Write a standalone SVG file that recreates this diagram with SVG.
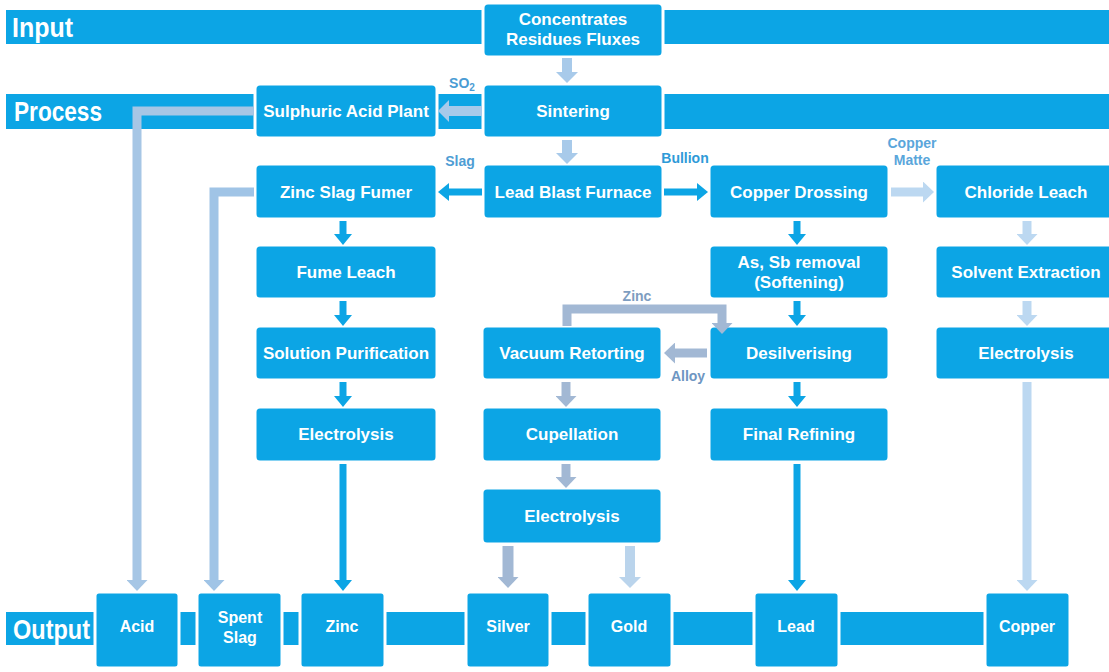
<svg xmlns="http://www.w3.org/2000/svg" width="1109" height="672" viewBox="0 0 1109 672">
<style>
.band{fill:#0CA5E5}
.node rect{fill:#0CA5E5;stroke:#ffffff;stroke-width:3}
.node text{fill:#ffffff;font-family:"Liberation Sans",Arial,sans-serif;font-weight:bold;font-size:17px;text-anchor:middle}
.onode text{font-size:16px}
.blabel{fill:#ffffff;font-family:"Liberation Sans",Arial,sans-serif;font-weight:bold;font-size:28px}
.lbl{font-family:"Liberation Sans",Arial,sans-serif;font-weight:bold;font-size:14px;text-anchor:middle}
.c{fill:none;stroke-linecap:butt;stroke-linejoin:miter}
.blue{stroke:#0CA5E5;stroke-width:7}
.light{stroke:#A8CAEA;stroke-width:10}
.pale{stroke:#BCD8F1;stroke-width:9}
.grey{stroke:#A2B8D4;stroke-width:9}
.acid{stroke:#A6C6E5;stroke-width:9}
.slagc{stroke:#A0C4E6;stroke-width:9}
.gold{stroke:#BAD4EC;stroke-width:10}
</style>
<defs>
<marker id="mBlue" markerUnits="userSpaceOnUse" markerWidth="11" markerHeight="18" refX="0" refY="9" orient="auto" viewBox="0 0 11 18"><path d="M0,0 L11,9 L0,18 Z" fill="#0CA5E5"/></marker>
<marker id="mLight" markerUnits="userSpaceOnUse" markerWidth="11" markerHeight="22" refX="0" refY="11" orient="auto" viewBox="0 0 11 22"><path d="M0,0 L11,11 L0,22 Z" fill="#A8CAEA"/></marker>
<marker id="mPale" markerUnits="userSpaceOnUse" markerWidth="11" markerHeight="21" refX="0" refY="10.5" orient="auto" viewBox="0 0 11 21"><path d="M0,0 L11,10.5 L0,21 Z" fill="#BCD8F1"/></marker>
<marker id="mGrey" markerUnits="userSpaceOnUse" markerWidth="11" markerHeight="21" refX="0" refY="10.5" orient="auto" viewBox="0 0 11 21"><path d="M0,0 L11,10.5 L0,21 Z" fill="#A2B8D4"/></marker>
<marker id="mAcid" markerUnits="userSpaceOnUse" markerWidth="11" markerHeight="21" refX="0" refY="10.5" orient="auto" viewBox="0 0 11 21"><path d="M0,0 L11,10.5 L0,21 Z" fill="#A6C6E5"/></marker>
<marker id="mSlag" markerUnits="userSpaceOnUse" markerWidth="11" markerHeight="21" refX="0" refY="10.5" orient="auto" viewBox="0 0 11 21"><path d="M0,0 L11,10.5 L0,21 Z" fill="#A0C4E6"/></marker>
<marker id="mGold" markerUnits="userSpaceOnUse" markerWidth="11" markerHeight="22" refX="0" refY="11" orient="auto" viewBox="0 0 11 22"><path d="M0,0 L11,11 L0,22 Z" fill="#BAD4EC"/></marker>
</defs>
<rect width="1109" height="672" fill="#ffffff"/>

<g id="bands">
<rect class="band" x="6" y="10" width="1103" height="34"/>
<rect class="band" x="6" y="94" width="1103" height="35"/>
<rect class="band" x="6" y="612" width="979" height="33"/>
<text class="blabel" x="12" y="37" textLength="61" lengthAdjust="spacingAndGlyphs">Input</text>
<text class="blabel" x="14" y="121" textLength="88" lengthAdjust="spacingAndGlyphs">Process</text>
<text class="blabel" x="13" y="639" textLength="77" lengthAdjust="spacingAndGlyphs">Output</text>
</g>

<g id="n-concentrates" class="node"><rect x="483" y="3" width="180" height="54" rx="5"/><text x="573" y="25">Concentrates</text><text x="573" y="45">Residues Fluxes</text></g>
<g id="n-sintering" class="node"><rect x="483" y="84" width="180" height="54" rx="5"/><text x="573" y="117">Sintering</text></g>
<g id="n-sulphuric" class="node"><rect x="255" y="84" width="182" height="54" rx="5"/><text x="346" y="117">Sulphuric Acid Plant</text></g>
<g id="n-leadblast" class="node"><rect x="483" y="164" width="180" height="55" rx="5"/><text x="573" y="198">Lead Blast Furnace</text></g>
<g id="n-zincslag" class="node"><rect x="255" y="164" width="182" height="55" rx="5"/><text x="346" y="198">Zinc Slag Fumer</text></g>
<g id="n-copperdross" class="node"><rect x="709" y="164" width="180" height="55" rx="5"/><text x="799" y="198">Copper Drossing</text></g>
<g id="n-chloride" class="node"><rect x="935" y="164" width="184" height="55" rx="5"/><text x="1026" y="198">Chloride Leach</text></g>
<g id="n-fumeleach" class="node"><rect x="255" y="245" width="182" height="54" rx="5"/><text x="346" y="278">Fume Leach</text></g>
<g id="n-assb" class="node"><rect x="709" y="245" width="180" height="54" rx="5"/><text x="799" y="268">As, Sb removal</text><text x="799" y="288">(Softening)</text></g>
<g id="n-solvent" class="node"><rect x="935" y="245" width="184" height="54" rx="5"/><text x="1026" y="278">Solvent Extraction</text></g>
<g id="n-solpur" class="node"><rect x="255" y="326" width="182" height="54" rx="5"/><text x="346" y="359">Solution Purification</text></g>
<g id="n-vacuum" class="node"><rect x="482" y="326" width="180" height="54" rx="5"/><text x="572" y="359">Vacuum Retorting</text></g>
<g id="n-desilver" class="node"><rect x="709" y="326" width="180" height="54" rx="5"/><text x="799" y="359">Desilverising</text></g>
<g id="n-electro-r" class="node"><rect x="935" y="326" width="184" height="54" rx="5"/><text x="1026" y="359">Electrolysis</text></g>
<g id="n-electro-l" class="node"><rect x="255" y="407" width="182" height="55" rx="5"/><text x="346" y="440">Electrolysis</text></g>
<g id="n-cupellation" class="node"><rect x="482" y="407" width="180" height="55" rx="5"/><text x="572" y="440">Cupellation</text></g>
<g id="n-finalref" class="node"><rect x="709" y="407" width="180" height="55" rx="5"/><text x="799" y="440">Final Refining</text></g>
<g id="n-electro-m" class="node"><rect x="482" y="488" width="180" height="56" rx="5"/><text x="572" y="522">Electrolysis</text></g>

<g id="n-acid" class="node onode"><rect x="95" y="592" width="84" height="76" rx="4"/><text x="137" y="632">Acid</text></g>
<g id="n-spentslag" class="node onode"><rect x="197" y="592" width="85" height="76" rx="4"/><text x="240" y="623">Spent</text><text x="240" y="643">Slag</text></g>
<g id="n-zinc" class="node onode"><rect x="300" y="592" width="85" height="76" rx="4"/><text x="342" y="632">Zinc</text></g>
<g id="n-silver" class="node onode"><rect x="466" y="592" width="84" height="76" rx="4"/><text x="508" y="632">Silver</text></g>
<g id="n-gold" class="node onode"><rect x="587" y="592" width="85" height="76" rx="4"/><text x="629" y="632">Gold</text></g>
<g id="n-lead" class="node onode"><rect x="754" y="592" width="85" height="76" rx="4"/><text x="796" y="632">Lead</text></g>
<g id="n-copper" class="node onode"><rect x="985" y="592" width="85" height="76" rx="4"/><text x="1027" y="632">Copper</text></g>

<g id="connectors">
<path class="c light" d="M567,58 V72" marker-end="url(#mLight)"/>
<path class="c light" d="M482,111 H449" marker-end="url(#mLight)"/>
<path class="c light" d="M567,140 V153" marker-end="url(#mLight)"/>
<path class="c blue" d="M482,192 H449" marker-end="url(#mBlue)"/>
<path class="c blue" d="M664,192 H697" marker-end="url(#mBlue)"/>
<path class="c pale" d="M891,192 H923" marker-end="url(#mPale)"/>
<path class="c pale" d="M1027,221 V234" marker-end="url(#mPale)"/>
<path class="c pale" d="M1027,301 V315" marker-end="url(#mPale)"/>
<path class="c pale" d="M1027,382 V580" marker-end="url(#mPale)"/>
<path class="c acid" d="M254,111 H137 V580" marker-end="url(#mAcid)"/>
<path class="c slagc" d="M254,192 H214 V580" marker-end="url(#mSlag)"/>
<path class="c blue" d="M343,221 V234" marker-end="url(#mBlue)"/>
<path class="c blue" d="M343,301 V315" marker-end="url(#mBlue)"/>
<path class="c blue" d="M343,382 V396" marker-end="url(#mBlue)"/>
<path class="c blue" d="M343,464 V580" marker-end="url(#mBlue)"/>
<path class="c blue" d="M797,221 V234" marker-end="url(#mBlue)"/>
<path class="c blue" d="M797,301 V315" marker-end="url(#mBlue)"/>
<path class="c blue" d="M797,382 V396" marker-end="url(#mBlue)"/>
<path class="c blue" d="M797,464 V580" marker-end="url(#mBlue)"/>
<path class="c grey" d="M707,353 H675" marker-end="url(#mGrey)"/>
<path class="c grey" d="M567,326 V309 H722 V323" marker-end="url(#mGrey)"/>
<path class="c grey" d="M566,382 V396" marker-end="url(#mGrey)"/>
<path class="c grey" d="M566,464 V477" marker-end="url(#mGrey)"/>
<path class="c grey" style="stroke-width:11" d="M508,546 V577" marker-end="url(#mGrey)"/>
<path class="c gold" d="M630,546 V577" marker-end="url(#mGold)"/>
</g>

<g id="labels">
<text class="lbl" x="462" y="88" fill="#4A9CD4">SO<tspan font-size="10" dy="3">2</tspan></text>
<text class="lbl" x="460" y="166" fill="#4E9DD4">Slag</text>
<text class="lbl" x="685" y="163" fill="#2E9AD8">Bullion</text>
<text class="lbl" x="912" y="148" fill="#5AA6DB">Copper</text>
<text class="lbl" x="912" y="165" fill="#5AA6DB">Matte</text>
<text class="lbl" x="637" y="301" fill="#7E9DC0">Zinc</text>
<text class="lbl" x="688" y="381" fill="#6E96C2">Alloy</text>
</g>
</svg>
